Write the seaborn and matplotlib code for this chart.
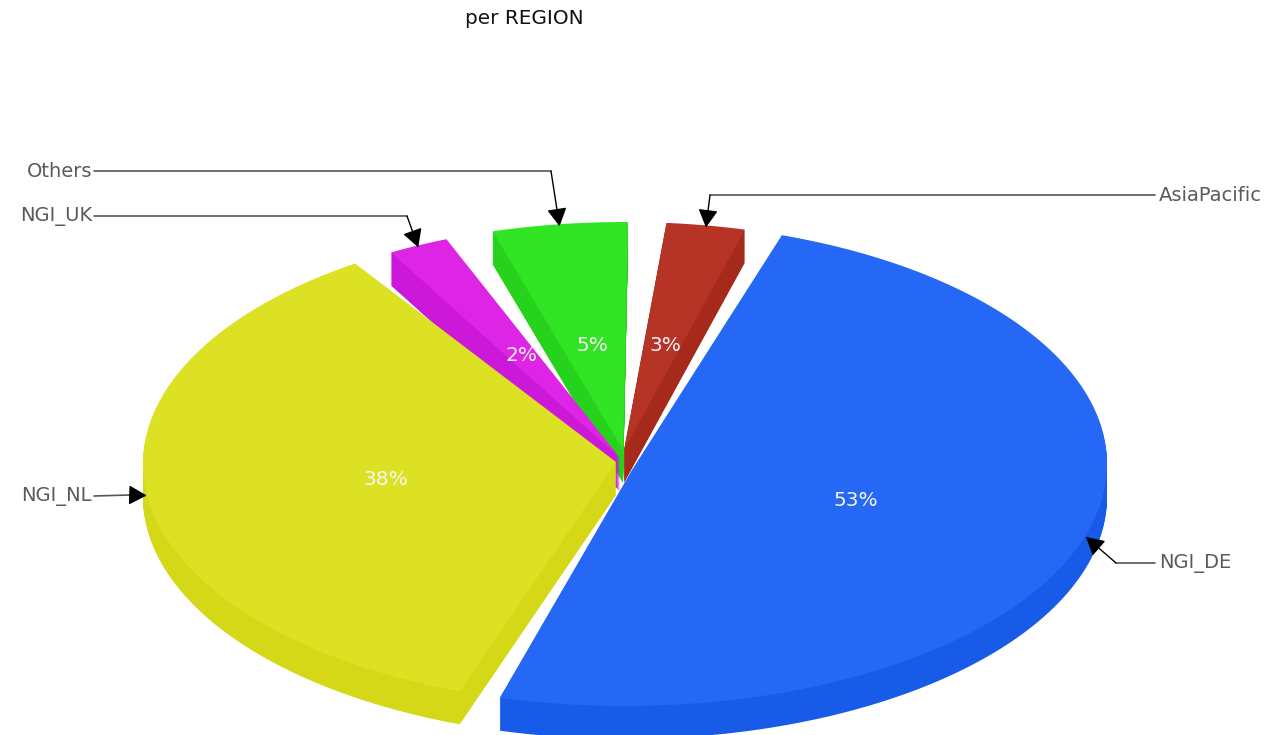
import numpy as np
import matplotlib
matplotlib.use('Agg')
import matplotlib.pyplot as plt
import seaborn as sns

# clockwise from the top, starting with the big blue slice
regions = ['NGI_DE', 'NGI_NL', 'NGI_UK', 'Others', 'AsiaPacific']
share = [53, 37.9, 2.2, 4.9, 2.85]
top_colors = ['#2468f5', '#dce223', '#de24e4', '#31e524', '#b53426']
side_colors = ['#175be8', '#d4d816', '#cc18d8', '#26d21c', '#a62a1c']
draw_order = [4, 3, 2, 1, 0]  # pos in the stack for each slice

# the inner corners don't quite meet in one point in the original
apex_x = [632, 616, 620, 623, 624]
apex_y = [470, 462, 458, 450, 450]

# leader lines, picture pixels
label_x = [1159, 92, 92, 92, 1159]
label_y = [563, 496, 216, 171, 195]
elbow_x = [1116, 130, 407, 551, 710]
elbow_y = [563, 495, 216, 171, 195]

gaps = [5.0, 5.0, 5.8, 4.6, 4.6]  # degrees of blank after each slice
START = 19.0    # degrees clockwise from the top
CX, CY = 625, 464
RX, RY = 482, 242
DEPTH = 33

sns.set_theme(style='white')
plt.rcParams['font.family'] = ['DejaVu Sans']

fig = plt.figure(figsize=(12.65, 7.35), dpi=100)
ax = fig.add_axes([0, 0, 1, 1])

spans = np.array(share) / sum(share) * (360 - sum(gaps))
starts = START + np.cumsum(np.r_[0, spans[:-1] + gaps[:-1]])


def slice_xy(i, drop):
    a = np.radians(np.linspace(starts[i], starts[i] + spans[i], 200))
    x = np.r_[apex_x[i], CX + RX * np.sin(a)]
    y = np.r_[apex_y[i], CY - RY * np.cos(a)] + drop
    return x, y


for i in range(len(share)):
    for drop in range(DEPTH, 0, -1):
        x, y = slice_xy(i, drop)
        ax.fill(x, y, color=side_colors[i], lw=0, zorder=draw_order[i] + 0.5 * (DEPTH - drop) / DEPTH)
    x, y = slice_xy(i, 0)
    ax.fill(x, y, color=top_colors[i], lw=0, zorder=draw_order[i] + 0.6)

ax.set_xlim(0, 1265)
ax.set_ylim(735, 0)
ax.axis('off')

ax.text(524, 18, 'per REGION', ha='center', va='center', fontsize=14.4, color='#111111')

for i, name in enumerate(regions):
    mid = np.radians(starts[i] + spans[i] / 2)
    ax.text(CX + 0.5 * RX * np.sin(mid), CY - 0.5 * RY * np.cos(mid) + 1,
            f'{round(share[i])}%', ha='center', va='center', fontsize=14.5, color='#f4f4f4', zorder=10)

    tip = (CX + RX * np.sin(mid), CY - RY * np.cos(mid) + 2)
    right_side = label_x[i] > CX
    ax.text(label_x[i], label_y[i] + 0.5, name, ha='left' if right_side else 'right', va='center',
            fontsize=14, color='#5a5a5a', zorder=10)
    start_x = label_x[i] + (-4 if right_side else 2)
    ax.plot([start_x, elbow_x[i]], [label_y[i], elbow_y[i]], color='#555555', lw=1.2, zorder=10)
    ax.annotate('', xy=tip, xytext=(elbow_x[i], elbow_y[i]), zorder=11,
                arrowprops=dict(arrowstyle='-|>,head_length=1.0,head_width=0.55', color='black',
                                lw=1.0, shrinkA=0, shrinkB=0, mutation_scale=11))

fig.savefig('out.png', dpi=100)
